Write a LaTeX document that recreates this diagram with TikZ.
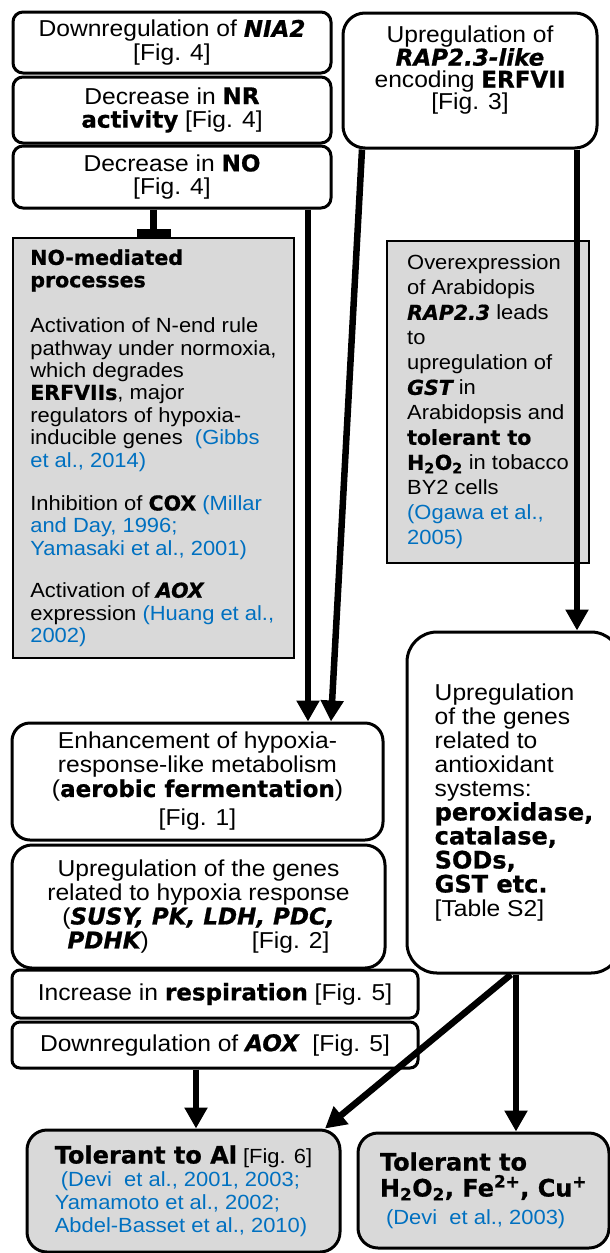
\documentclass[tikz,border=0pt]{standalone}
\usepackage{fontspec}
\setmainfont{Liberation Sans}[FakeStretch=1.07]
\newfontfamily\heavyfont{DejaVu Sans}[BoldFeatures={FakeBold=0.8},BoldItalicFeatures={FakeBold=0.8}]
\usetikzlibrary{arrows.meta}
\definecolor{boxgrey}{RGB}{217,217,217}
\definecolor{citeblue}{RGB}{0,112,192}
\newcommand{\hb}[1]{{\heavyfont\bfseries #1}}
\newcommand{\hbi}[1]{{\heavyfont\bfseries\itshape #1}}
\newcommand{\bighb}[1]{{\fontsize{24}{24}\selectfont\heavyfont\bfseries #1}}
\newcommand{\citeref}[1]{\textcolor{citeblue}{#1}}

\begin{document}
\begin{tikzpicture}[x=1pt,y=-1pt,
  box/.style={draw,line width=3pt,rounded corners=10pt,fill=white,align=center,inner sep=0pt,font=\fontsize{23}{23.5}\selectfont},
  greybox/.style={draw,line width=1.5pt,fill=boxgrey,align=left,inner sep=0pt,font=\fontsize{20.5}{22.4}\selectfont},
  endbox/.style={draw,line width=3pt,rounded corners=20pt,fill=boxgrey,align=left,inner sep=0pt,font=\fontsize{20.5}{23}\selectfont},
  flow/.style={line width=6.5pt,-{Triangle[length=21pt,width=22pt]}},
  block/.style={line width=6.5pt,-{Rectangle[length=8pt,width=34pt]}}]
\useasboundingbox[fill=white] (0,0) rectangle (610,1253);

% left column, top
\node[box,minimum width=318,minimum height=61] (nia) at (172,42.5) {Downregulation of \hbi{NIA2}\\{}[Fig. 4]};
\node[box,minimum width=318,minimum height=66] (nr) at (172,110) {Decrease in \hb{NR}\\ \hb{activity} [Fig. 4]};
\node[box,minimum width=318,minimum height=62] (no) at (172,177) {Decrease in \hb{NO}\\{}[Fig. 4]};

% right column, top
\node[box,rounded corners=22pt,minimum width=254,minimum height=135] (rap) at (470,80.5) {};
\node[align=center,font=\fontsize{23}{22}\selectfont] (raptext) at (470,70) {Upregulation of\\ \hbi{RAP2.3-like}\\ encoding \hb{ERFVII}\\{}[Fig. 3]};

% literature boxes
\node[greybox,minimum width=281,minimum height=420] (procs) at (153.5,448) {\hb{NO-mediated}\\ \hb{processes}\\[23pt]
  Activation of N-end rule\\ pathway under normoxia,\\ which degrades\\ \hb{ERFVIIs}, major\\ regulators of hypoxia-\\ inducible genes\ \ \citeref{(Gibbs}\\ \citeref{et al., 2014)}\\[21pt]
  Inhibition of \hb{COX} \citeref{(Millar}\\ \citeref{and Day, 1996;}\\ \citeref{Yamasaki et al., 2001)}\\[20pt]
  Activation of \hbi{AOX}\\ expression \citeref{(Huang et al.,}\\ \citeref{2002)}};
\node[greybox,font=\fontsize{20.5}{25}\selectfont,minimum width=202,minimum height=322] (ogawa) at (488,402) {Overexpression\\ of Arabidopis\\ \hbi{RAP2.3} leads\\ to\\ upregulation of\\ \hbi{GST} in\\ Arabidopsis and\\ \hb{tolerant to}\\ \hb{H\textsubscript{2}O\textsubscript{2}} in tobacco\\ BY2 cells\\ \citeref{(Ogawa et al.,}\\ \citeref{2005)}};

% middle
\node[box,align=left,rounded corners=30pt,font=\fontsize{23}{24}\selectfont,minimum width=214,minimum height=341] (anti) at (514,802.5) {Upregulation\\ of the genes\\ related to\\ antioxidant\\ systems:\\ \bighb{peroxidase,}\\ \bighb{catalase,}\\ \bighb{SODs,}\\ \bighb{GST etc.}\\{}[Table S2]};
\node[box,rounded corners=18pt,font=\fontsize{23}{24}\selectfont,minimum width=371,minimum height=117] (enh) at (197.5,781.5) {Enhancement of hypoxia-\\ response-like metabolism\\ (\hb{aerobic fermentation})\\[5pt]{}[Fig. 1]};
\node[box,rounded corners=20pt,font=\fontsize{23}{24}\selectfont,minimum width=373,minimum height=123] (hyp) at (198.5,906.5) {Upregulation of the genes\\ related to hypoxia response\\ (\hbi{SUSY, PK, LDH, PDC,}\\ \makebox[262pt]{\hbi{PDHK})\hfill[Fig. 2]}};
\node[box,rounded corners=8pt,minimum width=406,minimum height=48] (resp) at (215,994) {Increase in \hb{respiration} [Fig. 5]};
\node[box,rounded corners=8pt,minimum width=406,minimum height=46] (aox) at (215,1045) {Downregulation of \hbi{AOX}\ \ [Fig. 5]};

% outcomes
\node[endbox,minimum width=313,minimum height=122] (al) at (183.5,1191) {\bighb{Tolerant to Al} [Fig. 6]\\ \citeref{\ (Devi\ \ et al., 2001, 2003;}\\ \citeref{Yamamoto et al., 2002;}\\ \citeref{Abdel-Basset et al., 2010)}};
\node[endbox,minimum width=251,minimum height=115] (tol) at (483.5,1190.5) {\bighb{Tolerant to}\\[3pt] \bighb{H\textsubscript{2}O\textsubscript{2}, Fe\textsuperscript{2+}, Cu\textsuperscript{+}}\\[5pt]
  \citeref{\ (Devi\ \ et al., 2003)}};

% connectors
\draw[block] (no.south -| procs.north) -- (procs.north);
\draw[flow] ([xshift=136]no.south) coordinate (nofork) -- (nofork |- enh.north);
\draw[flow] ([xshift=-108]rap.south) -- ([xshift=133.5]enh.north);
\draw[flow] ([xshift=107]rap.south) coordinate (rapfork) -- (rapfork |- anti.north);
\draw[flow] ([xshift=-19]aox.south) coordinate (aoxfork) -- (aoxfork |- al.north);
\draw[flow] ([xshift=-3]anti.south) -- ([xshift=141.5]al.north);
\draw[flow] ([xshift=2]anti.south) coordinate (antifork) -- (antifork |- tol.north);
\end{tikzpicture}
\end{document}
